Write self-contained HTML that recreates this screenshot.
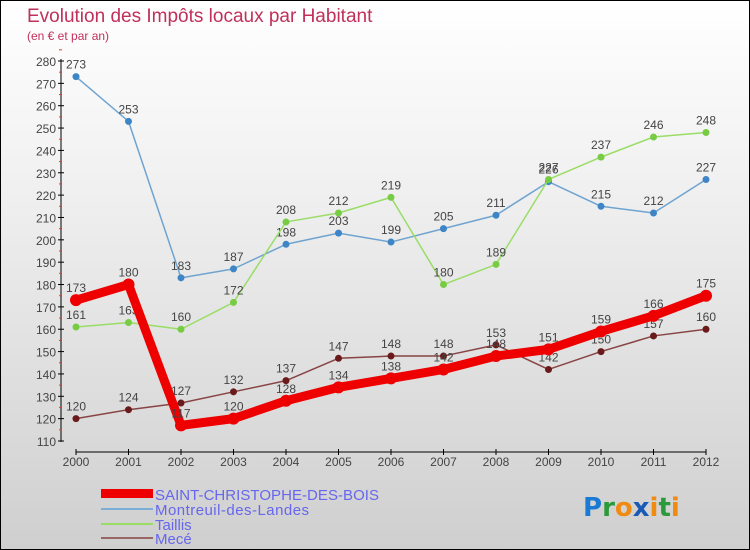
<!DOCTYPE html>
<html><head><meta charset="utf-8"><style>
body{margin:0}
#wrap{position:relative;width:748px;height:548px;border:1px solid #000;background:linear-gradient(#fff 0%,#f2f2f2 30%,#cfcfcf 100%);font-family:"Liberation Sans",sans-serif;overflow:hidden}
</style></head><body>
<div id="wrap">
<svg id="chart" width="748" height="548">
<text x="26" y="21" font-size="19" fill="#c0305a">Evolution des Impôts locaux par Habitant</text>
<text x="26" y="39" font-size="12" fill="#c0305a">(en € et par an)</text>
<g id="axes"></g><g id="series"></g>
<g>
<rect x="100" y="488" width="52" height="9" fill="#e00"/>
<text x="154" y="499" font-size="15" fill="#6666ee" textLength="224">SAINT-CHRISTOPHE-DES-BOIS</text>
<line x1="100" x2="152" y1="508" y2="508" stroke="#7aaed6" stroke-width="2"/>
<text x="154" y="514" font-size="15" fill="#6666ee" textLength="154">Montreuil-des-Landes</text>
<line x1="100" x2="152" y1="523" y2="523" stroke="#99dd66" stroke-width="2"/>
<text x="154" y="529" font-size="15" fill="#6666ee">Taillis</text>
<line x1="100" x2="152" y1="537" y2="537" stroke="#996666" stroke-width="2"/>
<text x="154" y="543" font-size="15" fill="#6666ee">Mecé</text>
</g>
<g font-size="26" font-weight="bold" font-family="'DejaVu Sans',sans-serif">
<text x="582" y="515"><tspan fill="#1a7ad4">P</tspan><tspan fill="#2a9a3a">r</tspan><tspan fill="#f08a10">o</tspan><tspan fill="#1a5ab4">x</tspan><tspan fill="#f08a10">i</tspan><tspan fill="#2a9a3a">t</tspan><tspan fill="#f08a10">i</tspan></text>
</g>
</svg>
</div>
<script>
const years=[2000,2001,2002,2003,2004,2005,2006,2007,2008,2009,2010,2011,2012];
const saint=[173,180,117,120,128,134,138,142,148,151,159,166,175];
const montreuil=[273,253,183,187,198,203,199,205,211,226,215,212,227];
const taillis=[161,163,160,172,208,212,219,180,189,227,237,246,248];
const mece=[120,124,127,132,137,147,148,148,153,142,150,157,160];
const yTicks=[110,120,130,140,150,160,170,180,190,200,210,220,230,240,250,260,270,280];
const NS="http://www.w3.org/2000/svg";
function X(i){return 75+i*(705-75)/(years.length-1);}
function Y(v){return 440-(v-110)*(440-60)/170;}
function mk(t,a,p){const e=document.createElementNS(NS,t);for(const k in a)e.setAttribute(k,a[k]);p.appendChild(e);return e;}
const ax=document.getElementById('axes');
const yl=mk('line',{x1:60,x2:60,y1:58,y2:441,stroke:'#000'},ax);


const xl=mk('line',{x1:75,x2:705,y1:451,y2:451,stroke:'#000'},ax);


yTicks.forEach(v=>{
 mk('line',{x1:57,x2:63,y1:Y(v),y2:Y(v),stroke:'#000'},ax);
 mk('line',{x1:58,x2:61,y1:Y(v+5),y2:Y(v+5),stroke:'#e33'},ax);
 const t=mk('text',{x:55,y:Y(v)+5,'font-size':12,fill:'#444','text-anchor':'end'},ax);t.textContent=v;
 
 
});
years.forEach((y,i)=>{
 mk('line',{x1:X(i),x2:X(i),y1:448,y2:454,stroke:'#000'},ax);
 const t=mk('text',{x:X(i),y:465,'font-size':12,fill:'#444','text-anchor':'middle'},ax);t.textContent=y;
 
 
});
const sg=document.getElementById('series');
function draw(vals,color,w,r,name,dot){
 const g=mk('g',{},sg);
 
 
 mk('polyline',{points:vals.map((v,i)=>X(i)+','+Y(v)).join(' '),fill:'none',stroke:color,'stroke-width':w,'stroke-linejoin':'round'},g);
 vals.forEach((v,i)=>{
  const c=mk('circle',{cx:X(i),cy:Y(v),r:r,fill:dot},g);
  
  
  const t=mk('text',{x:X(i),y:Y(v)-8,'font-size':12,fill:'#444','text-anchor':'middle'},g);t.textContent=v;
 });
}
draw(montreuil,'#6fa3d0',1.5,3.5,'series-montreuil','#3d85c6');
draw(taillis,'#99dd66',1.5,3.5,'series-taillis','#77cc44');
draw(mece,'#884444',1.5,3.5,'series-mece','#6a1a1a');
draw(saint,'#ee0000',9,6,'series-saint','#ee0000');
</script>
</body></html>
